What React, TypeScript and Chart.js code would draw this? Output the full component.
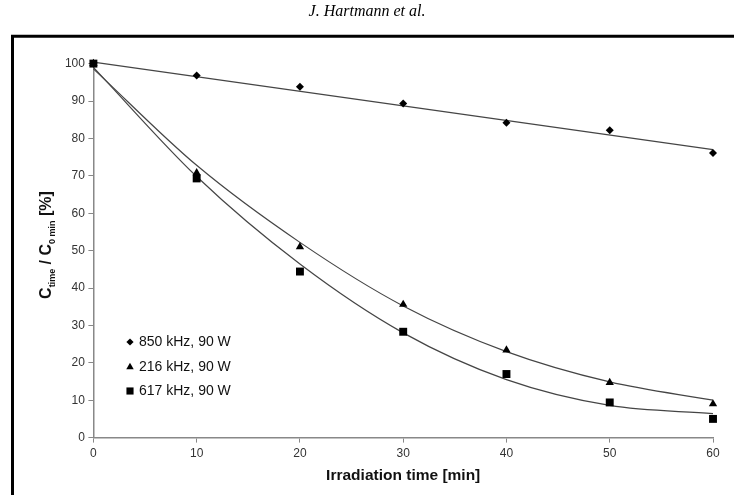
import React, { useEffect, useRef } from 'react';
import { Chart, registerables } from 'chart.js';

Chart.register(...registerables);

// ---- data ----
const TIMES = [0, 10, 20, 30, 40, 50, 60];
const S850 = [100, 96.8, 93.8, 89.3, 84.2, 82.2, 76.1];
const S216 = [100, 70.8, 51.0, 35.6, 23.4, 14.7, 9.0];
const S617 = [100, 69.3, 44.4, 28.3, 17.0, 9.4, 5.0];

// trend lines as drawn in the reference
const TREND850_X = [0, 60];
const TREND850_Y = [100.4, 77.0];
const TREND216_Y = [98.6, 72.8, 52.2, 35.2, 23.0, 14.9, 10.0];
const TREND617_Y = [99.0, 69.8, 46.4, 28.0, 15.5, 8.6, 6.4];

const LABELS = ['850 kHz, 90 W', '216 kHz, 90 W', '617 kHz, 90 W'];
const STYLES = ['rectRot', 'triangle', 'rect'];
const RADII = [4, 4.8, 5.6];

const HEADER = 'J. Hartmann et al.';
const X_TITLE = 'Irradiation time [min]';
const Y_TITLE_PARTS = [
  { t: 'C', sub: false },
  { t: 'time', sub: true },
  { t: ' / ', sub: false },
  { t: 'C', sub: false },
  { t: '0 min', sub: true },
  { t: ' [%]', sub: false },
];

const SANS = "'Liberation Sans', Arial, sans-serif";
const SERIF = "'Liberation Serif', 'Times New Roman', serif";

const pts = (xs: number[], ys: number[]) => xs.map((x, i) => ({ x, y: ys[i] }));

function drawShape(ctx: CanvasRenderingContext2D, style: string, x: number, y: number, r: number) {
  ctx.beginPath();
  if (style === 'rectRot') {
    ctx.moveTo(x - r, y);
    ctx.lineTo(x, y - r);
    ctx.lineTo(x + r, y);
    ctx.lineTo(x, y + r);
  } else if (style === 'triangle') {
    ctx.moveTo(x, y - r);
    ctx.lineTo(x + 0.866 * r, y + 0.5 * r);
    ctx.lineTo(x - 0.866 * r, y + 0.5 * r);
  } else {
    const s = Math.SQRT1_2 * r;
    ctx.rect(x - s, y - s, 2 * s, 2 * s);
  }
  ctx.closePath();
  ctx.fill();
}

const decorPlugin = {
  id: 'decor',
  beforeDraw(chart: any) {
    const ctx = chart.ctx as CanvasRenderingContext2D;
    ctx.save();
    ctx.fillStyle = '#ffffff';
    ctx.fillRect(0, 0, chart.width, chart.height);
    // header
    ctx.fillStyle = '#000';
    ctx.font = `italic 16px ${SERIF}`;
    ctx.textAlign = 'center';
    ctx.textBaseline = 'middle';
    ctx.fillText(HEADER, 367, 12);
    // frame
    ctx.strokeStyle = '#000';
    ctx.lineWidth = 3;
    ctx.beginPath();
    ctx.moveTo(734, 36.3);
    ctx.lineTo(12.5, 36.3);
    ctx.lineTo(12.5, 495);
    ctx.stroke();
    ctx.restore();
  },
  afterDraw(chart: any) {
    const ctx = chart.ctx as CanvasRenderingContext2D;
    ctx.save();
    // y title with subscripts
    ctx.translate(51, 245);
    ctx.rotate(-Math.PI / 2);
    ctx.fillStyle = '#111';
    ctx.textBaseline = 'alphabetic';
    ctx.textAlign = 'left';
    const big = `bold 16px ${SANS}`;
    const small = `bold 9px ${SANS}`;
    let total = 0;
    for (const p of Y_TITLE_PARTS) {
      ctx.font = p.sub ? small : big;
      total += ctx.measureText(p.t).width;
    }
    let cx = -total / 2;
    for (const p of Y_TITLE_PARTS) {
      ctx.font = p.sub ? small : big;
      ctx.fillText(p.t, cx, p.sub ? 3.5 : 0);
      cx += ctx.measureText(p.t).width;
    }
    ctx.restore();

    // legend inside the plot
    ctx.save();
    ctx.fillStyle = '#000';
    ctx.font = `14px ${SANS}`;
    ctx.textBaseline = 'middle';
    ctx.textAlign = 'left';
    const rows = [342, 367, 391];
    LABELS.forEach((lab, i) => {
      drawShape(ctx, STYLES[i], 130, rows[i], RADII[i] * 0.9);
      ctx.fillStyle = '#111';
      ctx.fillText(lab, 139, rows[i] + 0.5);
      ctx.fillStyle = '#000';
    });
    ctx.restore();
  },
};

export default function App() {
  const ref = useRef<HTMLCanvasElement | null>(null);

  useEffect(() => {
    if (!ref.current) return;
    const trendStyle = {
      showLine: true,
      borderColor: '#454545',
      borderWidth: 1.2,
      pointRadius: 0,
      pointHoverRadius: 0,
      clip: false as any,
    };
    const markStyle = (i: number) => ({
      showLine: false,
      pointStyle: STYLES[i] as any,
      pointRadius: RADII[i],
      backgroundColor: '#000',
      borderColor: '#000',
      borderWidth: 0,
      clip: false as any,
    });
    const chart = new Chart(ref.current, {
      type: 'scatter',
      data: {
        datasets: [
          { label: LABELS[2], data: pts(TIMES, S617), order: 1, ...markStyle(2) },
          { label: LABELS[1], data: pts(TIMES, S216), order: 2, ...markStyle(1) },
          { label: LABELS[0], data: pts(TIMES, S850), order: 3, ...markStyle(0) },
          { label: 'trend 850', data: pts(TREND850_X, TREND850_Y), order: 4, ...trendStyle },
          { label: 'trend 216', data: pts(TIMES, TREND216_Y), order: 5, cubicInterpolationMode: 'monotone', ...trendStyle },
          { label: 'trend 617', data: pts(TIMES, TREND617_Y), order: 6, cubicInterpolationMode: 'monotone', ...trendStyle },
        ] as any,
      },
      options: {
        animation: false,
        responsive: false,
        devicePixelRatio: 1,
        layout: { padding: { top: 63.6, right: 21, left: 0, bottom: 0 } },
        plugins: {
          legend: { display: false },
          title: { display: false },
          tooltip: { enabled: false },
        },
        scales: {
          x: {
            type: 'linear',
            min: 0,
            max: 60,
            afterFit: (s: any) => { s.height = 495 - 437.6; },
            ticks: {
              stepSize: 10,
              color: '#333',
              font: { family: SANS, size: 12 },
              padding: 4,
              maxRotation: 0,
            },
            grid: {
              drawOnChartArea: false,
              drawTicks: true,
              tickLength: 5,
              tickColor: '#888',
              tickWidth: 1,
            },
            border: { display: true, color: '#888', width: 1.5 },
            title: {
              display: true,
              text: X_TITLE,
              color: '#111',
              font: { family: SANS, size: 15.5, weight: 'bold' },
              padding: { top: 0, bottom: 10 },
            },
          },
          y: {
            type: 'linear',
            min: 0,
            max: 100,
            afterFit: (s: any) => { s.width = 93.4; },
            ticks: {
              stepSize: 10,
              color: '#333',
              font: { family: SANS, size: 12 },
              padding: 3.5,
            },
            grid: {
              drawOnChartArea: false,
              drawTicks: true,
              tickLength: 5,
              tickColor: '#888',
              tickWidth: 1,
            },
            border: { display: true, color: '#888', width: 1.5 },
          },
        },
      } as any,
      plugins: [decorPlugin],
    });
    return () => chart.destroy();
  }, []);

  return (
    <div style={{ position: 'absolute', left: 0, top: 0, width: 734, height: 495, background: '#fff' }}>
      <canvas ref={ref} width={734} height={495} style={{ display: 'block', width: 734, height: 495 }} />
    </div>
  );
}
